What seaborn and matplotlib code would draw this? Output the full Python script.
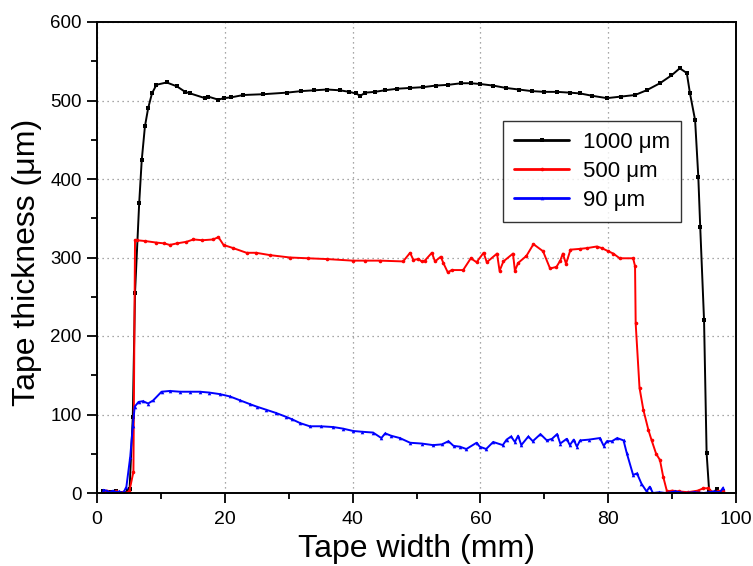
import matplotlib
matplotlib.use("Agg")
import matplotlib.pyplot as plt
import seaborn as sns
import pandas as pd
from matplotlib.ticker import MultipleLocator

# ---- data (x in mm, y in µm) ----
black_pts = [(1, 2), (2, 1), (3, 2), (4, 0), (4.8, 2), (5.1, 5), (5.6, 97), (5.95, 255),
             (6.6, 369), (7.0, 424), (7.5, 467), (8.0, 490), (8.6, 509), (9.3, 520),
             (10.9, 523), (12.5, 518), (13.8, 511), (14.6, 509), (16.9, 503), (17.4, 505),
             (19.0, 501), (19.8, 503), (21.0, 504), (22.9, 507), (26.0, 508), (29.7, 510),
             (32.0, 512), (34.0, 513), (36.0, 514), (38.0, 513), (39.5, 511), (40.5, 509),
             (41.2, 506), (42.0, 510), (43.5, 511), (45.0, 513), (47.0, 515), (49.0, 516),
             (51.0, 517), (53.0, 519), (55.0, 520), (57.0, 522), (58.5, 522), (60.0, 521),
             (62.0, 519), (64.0, 516), (66.0, 514), (68.0, 512), (70.0, 511), (72.0, 511),
             (74.0, 510), (75.6, 509), (77.5, 506), (79.8, 503), (82.0, 505), (84.2, 507),
             (86.0, 513), (88.1, 522), (89.9, 532), (91.2, 541), (92.3, 535), (92.8, 509),
             (93.6, 475), (94.1, 403), (94.4, 339), (95.0, 220), (95.4, 51), (95.8, 2),
             (96.4, 0), (97.0, 5), (97.5, 1), (98.0, 3)]

red_pts = [(1, 0), (1.5, 3), (2, 1), (2.5, 0), (3, 2), (3.5, 0), (4, 1), (4.5, 0), (5.06, 2),
           (5.7, 27), (5.95, 322), (6.2, 322), (7.5, 321), (9.3, 319), (10.5, 318),
           (11.4, 316), (12.5, 318), (14.0, 320), (15.1, 323), (16.5, 322), (18.2, 323),
           (19.0, 326), (19.8, 316), (21.3, 312), (23.4, 306), (24.9, 306), (27.1, 303),
           (30.2, 300), (33.0, 299), (36.0, 298), (40.0, 296), (42.0, 296), (44.3, 296),
           (47.9, 295), (49.0, 306), (49.5, 297), (50.3, 298), (50.8, 295), (51.3, 296),
           (52.4, 306), (52.9, 295), (53.8, 301), (54.2, 293), (54.9, 281), (55.5, 284),
           (57.3, 284), (58.5, 299), (59.4, 294), (60.5, 306), (61.0, 294), (62.6, 305),
           (63.0, 283), (63.6, 295), (65.1, 305), (65.4, 283), (65.9, 293), (67.2, 302),
           (68.3, 317), (69.8, 308), (70.9, 286), (71.9, 288), (72.5, 296), (72.9, 305),
           (73.4, 292), (74.1, 310), (75.6, 311), (76.7, 312), (78.2, 314), (79.0, 312),
           (80.0, 308), (80.8, 305), (81.8, 299), (83.9, 299), (84.2, 289), (84.3, 216),
           (84.9, 134), (85.5, 106), (86.3, 80), (86.8, 67), (87.5, 50), (88.1, 42),
           (88.6, 21), (89.2, 2), (90.0, 3), (91.1, 2), (92.5, 1), (94.0, 3), (94.9, 6),
           (95.6, 6), (96.4, 1), (97.2, 2), (97.9, 3)]

blue_pts = [(1, 4), (1.5, 3), (2, 1), (2.5, 3), (3, 1), (3.5, 2), (4, 0), (4.3, 3),
            (4.6, 8), (5.2, 46), (5.6, 85), (5.9, 110), (6.5, 116), (7.2, 117), (8.0, 114),
            (8.8, 118), (10.1, 129), (11.4, 130), (13.0, 129), (14.6, 129), (16.1, 129),
            (17.5, 128), (19.2, 126), (20.8, 123), (22.4, 118), (24.0, 113), (25.0, 110),
            (26.5, 106), (28.0, 102), (29.6, 97), (30.5, 94), (31.8, 89), (33.3, 85),
            (35.0, 85), (37.0, 84), (38.5, 82), (40.1, 79), (41.5, 78), (43.2, 77),
            (44.5, 70), (45.1, 76), (46.0, 73), (47.4, 70), (49.0, 64), (50.8, 63),
            (52.6, 61), (54.0, 62), (55.0, 66), (55.8, 60), (56.8, 59), (57.8, 56),
            (59.4, 64), (59.9, 59), (60.9, 56), (62.0, 65), (63.5, 61), (64.1, 68),
            (64.8, 72), (65.4, 65), (65.9, 73), (66.4, 61), (67.5, 72), (68.2, 66),
            (69.4, 75), (70.4, 67), (71.2, 69), (72.0, 75), (72.5, 63), (73.5, 69),
            (74.0, 61), (74.6, 68), (75.1, 59), (75.6, 67), (77.0, 68), (78.7, 70),
            (79.3, 60), (79.8, 66), (80.6, 66), (81.4, 70), (82.4, 67), (82.9, 51),
            (83.9, 23), (84.5, 25), (85.2, 12), (86.0, 2), (86.5, 8), (87.0, 0), (88.0, 1),
            (89.0, 0), (90.5, 2), (92.0, 0), (93.5, 1), (95.0, 0), (96.5, 2), (97.5, 1),
            (98.0, 7)]

series_names = ["1000 \u03bcm", "500 \u03bcm", "90 \u03bcm"]
series_colors = ["#000000", "#ff0000", "#0000ff"]
series_markers = ["s", "o", "^"]

x_ticks = [0, 20, 40, 60, 80, 100]
y_ticks = [0, 100, 200, 300, 400, 500, 600]

# ---- build the long table ----
frames = []
for name, pts in zip(series_names, [black_pts, red_pts, blue_pts]):
    d = pd.DataFrame(pts, columns=["x", "y"])
    d["series"] = name
    frames.append(d)
df = pd.concat(frames, ignore_index=True)

sns.set_style("ticks")
plt.rcParams["font.family"] = ["Liberation Sans", "DejaVu Sans"]
plt.rcParams["text.color"] = "black"
plt.rcParams["axes.labelcolor"] = "black"
plt.rcParams["xtick.color"] = "black"
plt.rcParams["ytick.color"] = "black"

fig = plt.figure(figsize=(7.53, 5.66), dpi=100)
ax = fig.add_axes([97 / 753, 73 / 566, 639 / 753, 471 / 566])

for name, col, mk in zip(series_names, series_colors, series_markers):
    sns.lineplot(data=df[df["series"] == name], x="x", y="y", ax=ax, color=col,
                 marker=mk, markersize=2.6, markeredgewidth=0, linewidth=1.4,
                 sort=False, estimator=None, label=name)

ax.set_xlim(0, 100)
ax.set_ylim(0, 600)
ax.set_xticks(x_ticks)
ax.set_yticks(y_ticks)
ax.xaxis.set_minor_locator(MultipleLocator(10))
ax.yaxis.set_minor_locator(MultipleLocator(50))
ax.tick_params(axis="both", which="major", direction="out", length=7, width=1.3,
               color="black", labelcolor="black", top=False, right=False)
ax.tick_params(axis="x", which="major", labelsize=14, pad=6)
ax.tick_params(axis="y", which="major", labelsize=13.5, pad=4)
ax.tick_params(axis="both", which="minor", direction="out", length=4, width=1.3,
               top=False, right=False)
ax.grid(True, which="major", linestyle=(0, (1, 3)), color="#8a8a8a", linewidth=0.9)

for sp in ax.spines.values():
    sp.set_visible(True)
    sp.set_linewidth(1.4)
    sp.set_color("black")

ax.set_xlabel("Tape width (mm)", fontsize=23, labelpad=4, color="black")
ax.set_ylabel("Tape thickness (\u03bcm)", fontsize=23, labelpad=2, color="black")
ax.yaxis.set_label_coords(-0.086, 0.49)

leg = ax.legend(loc="upper left", bbox_to_anchor=(0.635, 0.79), borderaxespad=0,
                fontsize=16, handlelength=2.5, labelspacing=0.35, frameon=True,
                fancybox=False, borderpad=0.5, handletextpad=0.6)
leg.get_frame().set_edgecolor("black")
leg.get_frame().set_linewidth(1.0)
for line in leg.get_lines():
    line.set_linewidth(2.0)
for t in leg.get_texts():
    t.set_color("black")

fig.savefig("out.png", dpi=100)
